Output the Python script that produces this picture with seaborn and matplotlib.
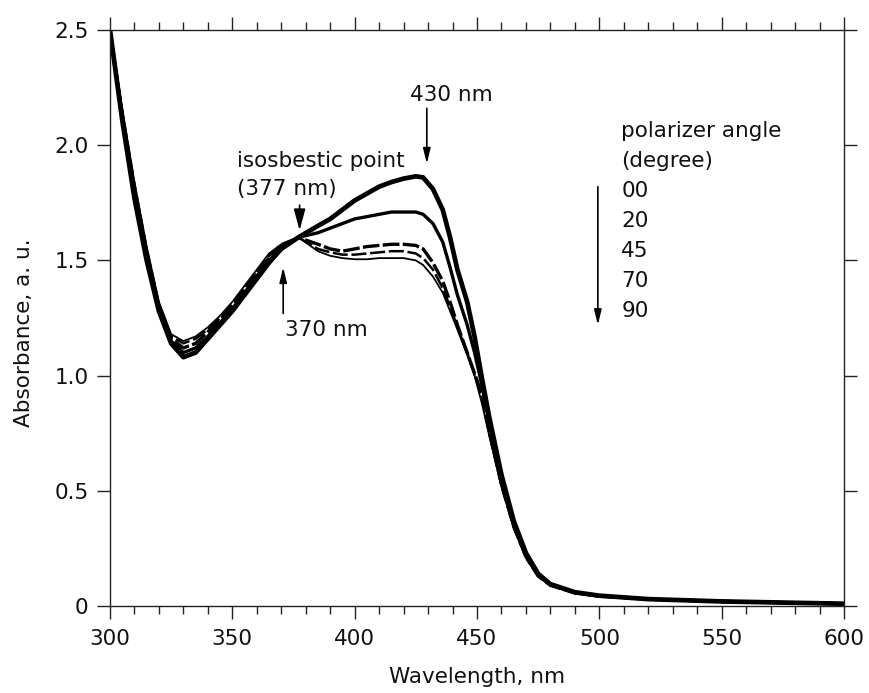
import numpy as np
import pandas as pd
import seaborn as sns
import matplotlib.pyplot as plt
from matplotlib.ticker import MultipleLocator, FixedLocator, FixedFormatter

# wavelength grid (nm)
wavelength = [300, 305, 310, 315, 320, 325, 330, 335, 340, 345, 350, 355, 360, 365, 370, 377,
              385, 390, 395, 400, 405, 410, 415, 420, 425, 428, 432, 436, 439, 442, 446, 449,
              452, 455, 460, 465, 470, 475, 480, 490, 500, 520, 550, 600]

# absorbance per polarizer angle
abs_00 = [2.50, 2.11, 1.77, 1.50, 1.28, 1.14, 1.08, 1.10, 1.16, 1.22, 1.28, 1.35, 1.42, 1.49, 1.55, 1.60,
          1.65, 1.68, 1.72, 1.76, 1.79, 1.82, 1.84, 1.855, 1.865, 1.86, 1.81, 1.72, 1.60, 1.46, 1.32, 1.17,
          0.99, 0.82, 0.57, 0.37, 0.23, 0.14, 0.095, 0.06, 0.045, 0.03, 0.02, 0.01]
abs_20 = [2.50, 2.12, 1.79, 1.52, 1.29, 1.15, 1.10, 1.12, 1.17, 1.23, 1.29, 1.36, 1.43, 1.50, 1.55, 1.60,
          1.62, 1.64, 1.66, 1.68, 1.69, 1.70, 1.71, 1.71, 1.71, 1.70, 1.66, 1.58, 1.47, 1.35, 1.22, 1.10,
          0.96, 0.79, 0.55, 0.36, 0.22, 0.135, 0.092, 0.058, 0.044, 0.03, 0.02, 0.01]
abs_45 = [2.50, 2.13, 1.81, 1.53, 1.30, 1.16, 1.12, 1.14, 1.19, 1.24, 1.30, 1.37, 1.44, 1.51, 1.56, 1.60,
          1.57, 1.55, 1.54, 1.55, 1.56, 1.565, 1.57, 1.57, 1.565, 1.55, 1.49, 1.41, 1.32, 1.22, 1.10, 1.01,
          0.92, 0.76, 0.53, 0.35, 0.215, 0.13, 0.09, 0.057, 0.043, 0.03, 0.02, 0.01]
abs_70 = [2.50, 2.15, 1.83, 1.55, 1.31, 1.17, 1.14, 1.16, 1.20, 1.25, 1.31, 1.38, 1.45, 1.52, 1.57, 1.60,
          1.55, 1.535, 1.525, 1.525, 1.53, 1.535, 1.54, 1.54, 1.53, 1.51, 1.46, 1.38, 1.30, 1.21, 1.10, 1.005,
          0.90, 0.75, 0.52, 0.34, 0.21, 0.13, 0.09, 0.056, 0.042, 0.03, 0.02, 0.01]
abs_90 = [2.50, 2.16, 1.84, 1.56, 1.32, 1.18, 1.15, 1.17, 1.21, 1.26, 1.32, 1.39, 1.46, 1.53, 1.57, 1.60,
          1.54, 1.52, 1.51, 1.505, 1.505, 1.51, 1.51, 1.51, 1.50, 1.48, 1.43, 1.36, 1.28, 1.20, 1.09, 1.00,
          0.88, 0.74, 0.52, 0.34, 0.21, 0.13, 0.09, 0.056, 0.042, 0.03, 0.02, 0.01]

angles = ['00', '20', '45', '70', '90']
y_ticks = [0, 0.5, 1.0, 1.5, 2.0, 2.5]
y_tick_labels = ['0', '0.5', '1.0', '1.5', '2.0', '2.5']

sns.set_style('ticks')
plt.rcParams['font.family'] = ['DejaVu Sans']

fs = 15.5
ink = '#111111'

fig = plt.figure(figsize=(8.7, 6.93), dpi=100)
ax = fig.add_axes([0.1264, 0.1255, 0.8437, 0.8312])

series = [abs_00, abs_20, abs_45, abs_70, abs_90]
widths = [3.4, 2.4, 2.4, 1.8, 1.3]
dashes = [None, None, (5, 1), (6, 1.5), None]
for ang, vals, lw, ds in zip(angles, series, widths, dashes):
    df = pd.DataFrame({'Wavelength': wavelength, 'Absorbance': vals})
    sns.lineplot(x='Wavelength', y='Absorbance', data=df, ax=ax, color='black', lw=lw, sort=False)
    if ds is not None:
        ax.lines[-1].set_dashes(ds)

ax.set_xlim(300, 600)
ax.set_ylim(0, 2.5)
ax.xaxis.set_major_locator(MultipleLocator(50))
ax.xaxis.set_minor_locator(MultipleLocator(10))
ax.yaxis.set_major_locator(FixedLocator(y_ticks))
ax.yaxis.set_major_formatter(FixedFormatter(y_tick_labels))

for s in ax.spines.values():
    s.set_visible(True)
    s.set_linewidth(1.0)
    s.set_color('#222222')
ax.tick_params(which='both', direction='out', top=True, right=True, colors='#222222',
               labelsize=fs, width=1.0)
ax.tick_params(which='major', length=9.5)
ax.tick_params(which='minor', length=6)
ax.tick_params(axis='x', which='major', pad=7)
ax.tick_params(axis='y', which='major', pad=6)
for lab in ax.get_xticklabels() + ax.get_yticklabels():
    lab.set_color(ink)

ax.set_xlabel('Wavelength, nm', fontsize=fs, labelpad=13, color=ink)
ax.set_ylabel('Absorbance, a. u.', fontsize=fs, color=ink)
ax.yaxis.set_label_coords(-0.104, 0.475)

arrow_kw = dict(arrowstyle='-|>,head_length=0.9,head_width=0.22', color='black', lw=1.2,
                shrinkA=0, shrinkB=0)

ax.text(439.5, 2.22, '430 nm', fontsize=fs, ha='center', va='center', color=ink)
ax.annotate('', xy=(429.5, 1.92), xytext=(429.5, 2.16), arrowprops=arrow_kw)

ax.text(352, 1.93, 'isosbestic point', fontsize=fs, ha='left', va='center', color=ink)
ax.text(352, 1.81, '(377 nm)', fontsize=fs, ha='left', va='center', color=ink)
ax.annotate('', xy=(377.5, 1.63), xytext=(377.5, 1.74),
            arrowprops=dict(arrowstyle='-|>,head_length=1.3,head_width=0.35', color='black',
                            lw=1.2, shrinkA=0, shrinkB=0))

ax.text(371.5, 1.20, '370 nm', fontsize=fs, ha='left', va='center', color=ink)
ax.annotate('', xy=(370.8, 1.47), xytext=(370.8, 1.27), arrowprops=arrow_kw)

ax.text(509, 2.06, 'polarizer angle', fontsize=fs, ha='left', va='center', color=ink)
ax.text(509, 1.93, '(degree)', fontsize=fs, ha='left', va='center', color=ink)
for i, ang in enumerate(angles):
    ax.text(509, 1.80 - i * 0.13, ang, fontsize=fs, ha='left', va='center', color=ink)
ax.annotate('', xy=(499.4, 1.22), xytext=(499.4, 1.82), arrowprops=arrow_kw)

fig.savefig('out.png', dpi=100, facecolor='white')
